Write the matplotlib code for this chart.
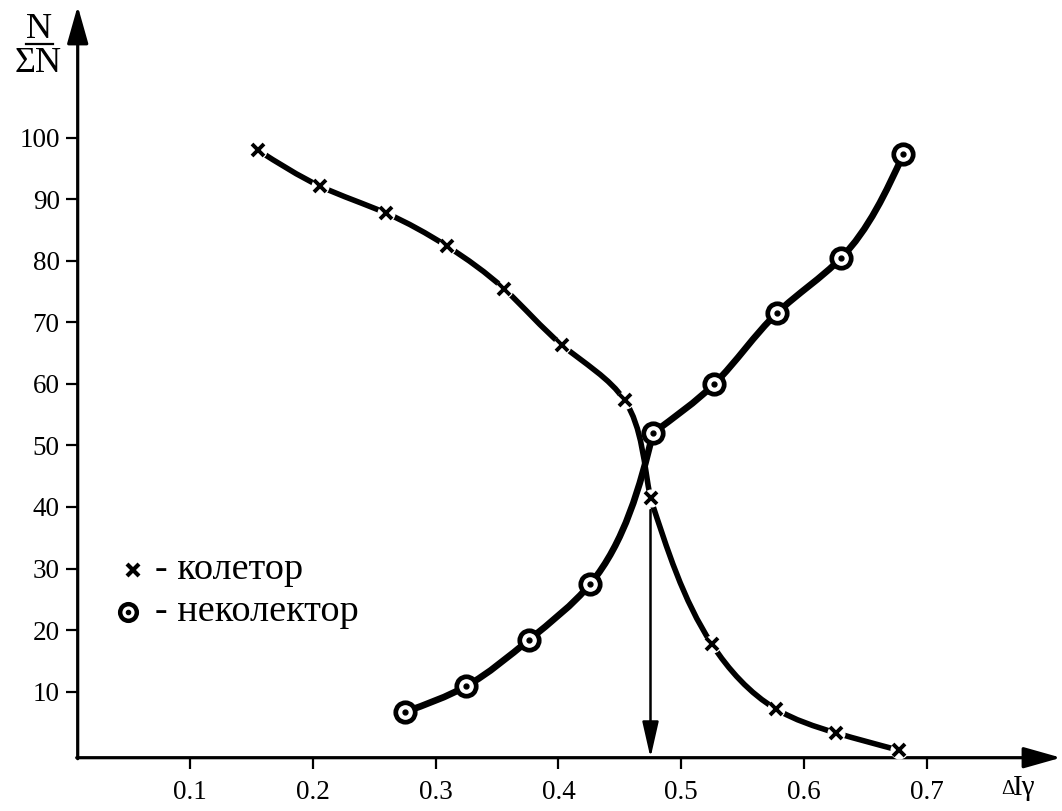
import matplotlib
matplotlib.use("Agg")
import matplotlib.pyplot as plt
import numpy as np
from matplotlib.path import Path
from matplotlib.patches import PathPatch
from matplotlib.lines import Line2D

plt.rcParams['font.family'] = ['Liberation Serif', 'DejaVu Serif']

# --- data ---
collector_x = [0.155, 0.206, 0.260, 0.309, 0.356, 0.403, 0.454, 0.475, 0.525, 0.577, 0.626, 0.677]
collector_y = [98.0, 92.1, 87.7, 82.4, 75.4, 66.3, 57.3, 41.4, 17.7, 7.2, 3.3, 0.5]
noncollector_x = [0.275, 0.325, 0.376, 0.426, 0.477, 0.527, 0.578, 0.630, 0.681]
noncollector_y = [6.7, 10.9, 18.4, 27.5, 52.0, 60.0, 71.5, 80.4, 97.3]
x_ticks = [0.1, 0.2, 0.3, 0.4, 0.5, 0.6, 0.7]
x_tick_labels = ['0.1', '0.2', '0.3', '0.4', '0.5', '0.6', '0.7']
y_ticks = [10, 20, 30, 40, 50, 60, 70, 80, 90, 100]
y_tick_labels = ['10', '20', '30', '40', '50', '60', '70', '80', '90', '100']
boundary_x = 0.475
boundary_y = 39.5
legend_labels = ['- колетор', '- неколектор']

W, H = 1062, 811
fig = plt.figure(figsize=(W / 100, H / 100), dpi=100)

# pixel geometry of the axes
px_left, px_right = 77.7, 1030.0
py_bottom, py_top = 757.7, 40.0
x0_px, x_scale = 67.2, 1228.0      # pixel of x=0 and pixels per unit
y0_px, y_scale = 753.2, 6.156      # pixel of y=0 and pixels per unit

ax = fig.add_axes([px_left / W, (H - py_bottom) / H,
                   (px_right - px_left) / W, (py_bottom - py_top) / H])
ax.set_xlim((px_left - x0_px) / x_scale, (px_right - x0_px) / x_scale)
ax.set_ylim((y0_px - py_bottom) / y_scale, (y0_px - py_top) / y_scale)

for s in ax.spines.values():
    s.set_visible(False)

ax.set_xticks(x_ticks)
ax.set_xticklabels(x_tick_labels)
ax.set_yticks(y_ticks)
ax.set_yticklabels(y_tick_labels)
ax.tick_params(axis='x', direction='out', length=8, width=1.6, pad=8, labelsize=19.5)
ax.tick_params(axis='y', direction='out', length=9, width=1.6, pad=4, labelsize=19.5)

# axes with arrows (figure pixel coordinates)
arrow_kw = dict(arrowstyle='-|>,head_length=23,head_width=6.5', mutation_scale=1,
                lw=2.3, color='black', shrinkA=0, shrinkB=0)
fig_y_axis = H - py_bottom
ax.annotate('', xy=(1061, fig_y_axis), xytext=(px_left - 1, fig_y_axis),
            xycoords='figure pixels', textcoords='figure pixels', arrowprops=arrow_kw,
            annotation_clip=False)
ax.annotate('', xy=(px_left, H - 6), xytext=(px_left, fig_y_axis - 1),
            xycoords='figure pixels', textcoords='figure pixels', arrowprops=arrow_kw,
            annotation_clip=False)


def _second_derivs(t, y, d0=None, d1=None):
    n = len(t)
    h = np.diff(t)
    A = np.zeros((n, n))
    b = np.zeros(n)
    if d0 is None:
        A[0, 0] = 1.0
    else:
        A[0, 0], A[0, 1] = 2 * h[0], h[0]
        b[0] = 6 * ((y[1] - y[0]) / h[0] - d0)
    if d1 is None:
        A[-1, -1] = 1.0
    else:
        A[-1, -2], A[-1, -1] = h[-1], 2 * h[-1]
        b[-1] = 6 * (d1 - (y[-1] - y[-2]) / h[-1])
    for i in range(1, n - 1):
        A[i, i - 1] = h[i - 1]
        A[i, i] = 2 * (h[i - 1] + h[i])
        A[i, i + 1] = h[i]
        b[i] = 6 * ((y[i + 1] - y[i]) / h[i] - (y[i] - y[i - 1]) / h[i - 1])
    return np.linalg.solve(A, b)


def smooth_path(xs, ys, start_dir=None, end_dir=None):
    """Chord-length cubic spline through the points (optionally clamped end directions,
    given in screen pixels), returned as Bezier segments in data coordinates."""
    pts = np.column_stack([np.asarray(xs) * x_scale, np.asarray(ys) * y_scale]).astype(float)
    t = np.concatenate([[0], np.cumsum(np.linalg.norm(np.diff(pts, axis=0), axis=1))])
    sd = None if start_dir is None else np.asarray(start_dir, float) / np.linalg.norm(start_dir)
    ed = None if end_dir is None else np.asarray(end_dir, float) / np.linalg.norm(end_dir)
    M = np.column_stack([
        _second_derivs(t, pts[:, k],
                       None if sd is None else sd[k],
                       None if ed is None else ed[k]) for k in range(2)])
    verts = [pts[0]]
    codes = [Path.MOVETO]
    for i in range(len(pts) - 1):
        h = t[i + 1] - t[i]
        slope = (pts[i + 1] - pts[i]) / h
        d0 = slope - h * (2 * M[i] + M[i + 1]) / 6
        d1 = slope + h * (M[i] + 2 * M[i + 1]) / 6
        verts += [pts[i] + d0 * h / 3, pts[i + 1] - d1 * h / 3, pts[i + 1]]
        codes += [Path.CURVE4] * 3
    v = np.array(verts)
    v[:, 0] /= x_scale
    v[:, 1] /= y_scale
    return Path(v, codes)


def draw_curve(path, lw):
    ax.add_patch(PathPatch(path, fill=False, lw=lw, edgecolor='black',
                           capstyle='round', zorder=3, clip_on=False))


# non-collector: lower branch rises steeply into the 52 point, then turns right
k = 4
draw_curve(smooth_path(noncollector_x[:k + 1], noncollector_y[:k + 1], end_dir=(0.24, 1.0)), 4.8)
draw_curve(smooth_path(noncollector_x[k:], noncollector_y[k:], start_dir=(1.0, 0.75)), 4.8)

# collector: upper branch falls steeply into the 41.4 point, then bends right
j = 7
draw_curve(smooth_path(collector_x[:j + 1], collector_y[:j + 1], end_dir=(0.2, -1.0)), 4.0)
draw_curve(smooth_path(collector_x[j:], collector_y[j:], start_dir=(0.33, -1.0)), 4.0)

# collector markers: white gap then cross
ax.plot(collector_x, collector_y, linestyle='none', marker='o', ms=12,
        mfc='white', mec='white', zorder=4, clip_on=False)
ax.plot(collector_x, collector_y, linestyle='none', marker='x', ms=9, mew=2.8,
        color='black', zorder=5, clip_on=False)

# non-collector markers: ring with dot
ax.plot(noncollector_x, noncollector_y, linestyle='none', marker='o', ms=14,
        mfc='white', mec='black', mew=3.4, zorder=5, clip_on=False)
ax.plot(noncollector_x, noncollector_y, linestyle='none', marker='o', ms=3.5,
        color='black', zorder=6, clip_on=False)

# boundary arrow
ax.annotate('', xy=(boundary_x, ax.get_ylim()[0]), xytext=(boundary_x, boundary_y),
            arrowprops=dict(arrowstyle='-|>,head_length=22,head_width=5', mutation_scale=1,
                            lw=1.8, color='black', shrinkA=0, shrinkB=0),
            annotation_clip=False, zorder=2)

# y label N / ΣN
fig.text(39 / W, 1 - 29 / H, 'N', fontsize=26, ha='center', va='center')
fig.add_artist(Line2D([26 / W, 53 / W], [1 - 44 / H, 1 - 44 / H], lw=1.6, color='black'))
fig.text(38 / W, 1 - 63 / H, 'ΣN', fontsize=26, ha='center', va='center')

# x label  ΔIγ  (small delta)
fig.text(1008 / W, 1 - 790 / H, 'Δ', fontsize=15, ha='center', va='center')
fig.text(1024 / W, 1 - 788 / H, 'Iγ', fontsize=21, ha='center', va='center')

# legend
fig.add_artist(Line2D([133 / W], [1 - 570 / H], marker='x', ms=9, mew=3, color='black'))
fig.add_artist(Line2D([128 / W], [1 - 612 / H], marker='o', ms=12, mfc='white', mec='black', mew=3.2))
fig.add_artist(Line2D([128 / W], [1 - 612 / H], marker='o', ms=3, color='black'))
fig.text(155 / W, 1 - 570 / H, legend_labels[0], fontsize=27.5, ha='left', va='center')
fig.text(155 / W, 1 - 612 / H, legend_labels[1], fontsize=27.5, ha='left', va='center')

fig.savefig('out.png', dpi=100, facecolor='white')
